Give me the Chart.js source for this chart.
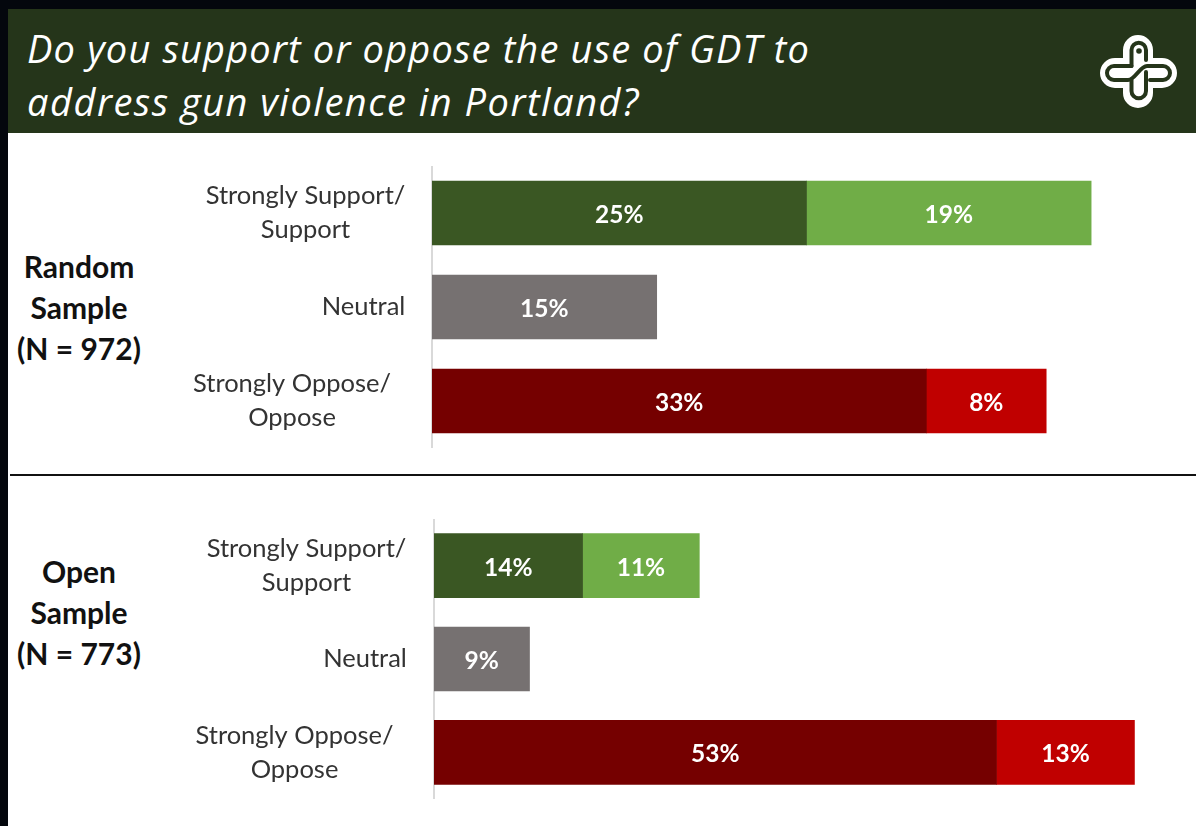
<!DOCTYPE html>
<html>
<head>
<meta charset="utf-8">
<title>GDT support</title>
<script src="https://cdn.jsdelivr.net/npm/chart.js@4/dist/chart.umd.min.js"></script>
<style>
    html, body { margin: 0; padding: 0; background: #04070d; }
    #page { position: relative; width: 1196px; height: 826px; overflow: hidden; font-family: Lato, sans-serif; }
    #panel { position: absolute; left: 8px; top: 133px; width: 1188px; height: 693px; background: #fff; }
    #header { position: absolute; left: 8px; top: 9px; width: 1188px; height: 124px; background: #25351a; }
    #header div { position: absolute; left: 19px; color: #fff; font: italic 38px "Open Sans", sans-serif; white-space: nowrap; }
    #logo { position: absolute; left: 1090px; top: 25px; }
    .sample { position: absolute; width: 158px; text-align: center; font-weight: 700; font-size: 30px; line-height: 41px; color: #111; }
    #rule { position: absolute; left: 10px; top: 474px; width: 1186px; height: 1.5px; background: #111; }
    canvas { position: absolute; }
</style>
</head>
<body>
<div id="page">
    <div id="panel"></div>
    <div id="header">
        <div style="top:13px;letter-spacing:1.17px">Do you support or oppose the use of GDT to</div>
        <div style="top:66px;letter-spacing:1.5px">address gun violence in Portland?</div>
    </div>
    <svg id="logo" width="100" height="94" viewBox="1090 25 100 94" fill="none" stroke-linecap="round">
        <path fill="#fff" d="M1123 58V50A15 15 0 0 1 1153 50V58H1162A15 15 0 0 1 1162 88H1153V93A15 15 0 0 1 1123 93V88H1115A15 15 0 0 1 1115 58Z"/>
        <g stroke="#25351a" stroke-width="4">
            <path d="M1131.5 66H1114A7 7 0 0 0 1114 80H1128C1135 80 1140 66 1147 66H1163A7 7 0 0 1 1163 80H1150"/>
            <path d="M1131.5 66V50A7.25 7.25 0 0 1 1146 50V60"/>
            <path d="M1131.5 80V91A7.25 7.25 0 0 0 1146 91V72"/>
        </g>
        <circle cx="1139" cy="51" r="2.8" fill="#25351a"/>
    </svg>
    <div id="rule"></div>
    <div class="sample" style="left:0;top:246px">Random<br>Sample<br>(N = 972)</div>
    <div class="sample" style="left:0;top:551px">Open<br>Sample<br>(N = 773)</div>
    <canvas id="randomChart"></canvas>
    <canvas id="openChart"></canvas>
</div>
<script>
const categories = ['Strongly Support/|Support', 'Neutral', 'Strongly Oppose/|Oppose'];

const randomStrong = [25, 15, 33];
const randomModerate = [19, null, 8];
const openStrong = [14, 9, 53];
const openModerate = [11, null, 13];

const strongColors = ['#3a5723', '#767171', '#750000'];
const moderateColors = ['#70ad47', '#767171', '#c00000'];

// draws the percent inside each bar segment
const valueLabels = {
    id: 'valueLabels',
    afterDatasetsDraw(chart) {
        const ctx = chart.ctx;
        ctx.save();
        ctx.fillStyle = '#fff';
        ctx.font = '700 24.5px Lato';
        ctx.textAlign = 'center';
        ctx.textBaseline = 'middle';
        chart.data.datasets.forEach((ds, i) => {
            chart.getDatasetMeta(i).data.forEach((bar, j) => {
                if (ds.data[j] == null) return;
                const c = bar.getCenterPoint();
                ctx.fillText(ds.data[j] + '%', c.x, c.y + 2);
            });
        });
        ctx.restore();
    }
};

// category labels: lines are centred on each other, neutral sits flush with the axis gap
const categoryLabels = {
    id: 'categoryLabels',
    afterDraw(chart, args, opts) {
        const ctx = chart.ctx;
        const yScale = chart.scales.y;
        ctx.save();
        ctx.fillStyle = '#333';
        ctx.font = '25.5px Lato';
        ctx.textBaseline = 'middle';
        ctx.textAlign = 'center';
        categories.forEach((cat, i) => {
            const y = yScale.getPixelForValue(i);
            const lines = cat.split('|');
            lines.forEach((line, k) => {
                const ly = y + (k - (lines.length - 1) / 2) * 34;
                ctx.fillText(line, opts.centers[i], ly);
            });
        });
        ctx.restore();
    }
};

function makeChart(id, box, strong, moderate, xMax, centers) {
    const canvas = document.getElementById(id);
    canvas.style.left = box.left + 'px';
    canvas.style.top = box.top + 'px';
    canvas.width = box.width;
    canvas.height = box.height;
    return new Chart(canvas, {
        type: 'bar',
        data: {
            labels: categories,
            datasets: [
                { label: 'Strongly', data: strong, backgroundColor: strongColors, barThickness: 64 },
                { label: 'Somewhat', data: moderate, backgroundColor: moderateColors, barThickness: 64 }
            ]
        },
        options: {
            indexAxis: 'y',
            responsive: false,
            animation: false,
            layout: { padding: { left: box.axisLeft - box.left } },
            scales: {
                x: { stacked: true, display: false, min: 0, max: xMax },
                y: {
                    stacked: true,
                    grid: { display: false, drawTicks: false },
                    border: { display: true, color: '#d9d9d9', width: 2 },
                    ticks: { display: false }
                }
            },
            plugins: {
                legend: { display: false },
                tooltip: { enabled: false },
                categoryLabels: { centers: centers }
            }
        },
        plugins: [valueLabels, categoryLabels]
    });
}

document.addEventListener('DOMContentLoaded', () => {
    makeChart('randomChart', { left: 8, top: 166, width: 1188, height: 282, axisLeft: 432 },
        randomStrong, randomModerate, 51, [297.5, 355.5, 284]);
    makeChart('openChart', { left: 8, top: 519, width: 1188, height: 280, axisLeft: 434 },
        openStrong, openModerate, 71.8, [298.5, 357, 286.5]);
});
</script>
</body>
</html>
